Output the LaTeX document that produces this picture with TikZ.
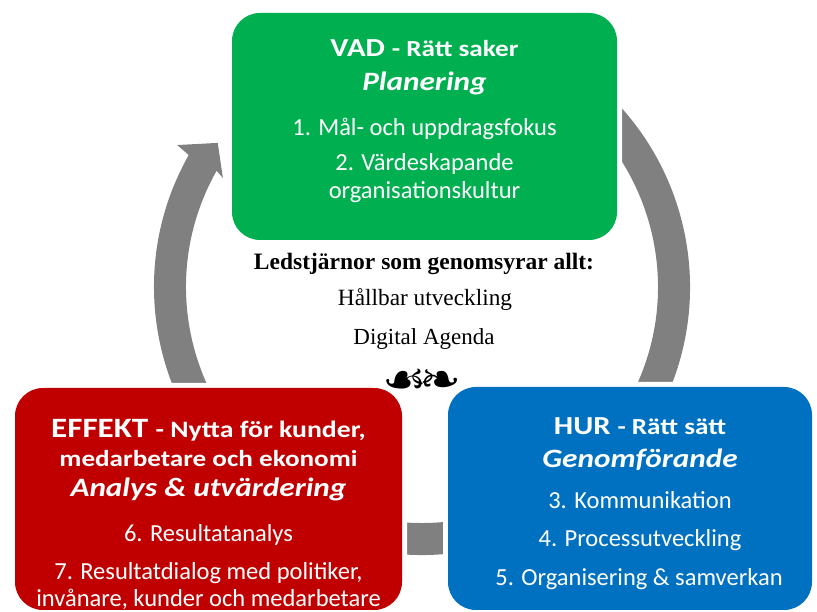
\documentclass[tikz,border=0pt]{standalone}
\usepackage{graphicx}
\usepackage{fontspec}
\setmainfont{Carlito}
\newfontfamily\serifbody{Liberation Serif}
\newfontfamily\ornfont{DejaVu Sans}
\definecolor{vgreen}{HTML}{00B050}
\definecolor{vred}{HTML}{C00000}
\definecolor{vblue}{HTML}{0070C0}
\definecolor{ringgray}{HTML}{808080}
\newcommand\fsz[1]{\fontsize{#1}{#1}\selectfont}
\newcommand\wide[1]{\scalebox{1.18}[1]{#1}}
\begin{document}
\begin{tikzpicture}[x=1pt,y=1pt,
  box/.style={rounded corners=28pt, minimum width=#1, inner sep=0pt, outer sep=0pt,
    preaction={draw=white, line width=10pt}},
  boxtxt/.style={text=white, anchor=mid, inner sep=0pt},
  midtxt/.style={text=black, anchor=mid, inner sep=0pt, font=\serifbody}]
\useasboundingbox (0,0) rectangle (817,612);
\fill[white] (0,0) rectangle (817,612);
% circular arrow
\begin{scope}[shift={(422,325)}]
\fill[ringgray] (60:268) arc[start angle=60,end angle=-209.5,radius=268]
  -- (149.9:283) -- (144.8:250) -- (151.3:227) -- (-209.5:236)
  arc[start angle=-209.5,end angle=60,radius=236] -- cycle;
\end{scope}
% boxes
\node[box=385pt, fill=vgreen, minimum height=227pt] (vad) at (424.5,485.5) {};
\node[box=387pt, fill=vred, minimum height=222pt] (effekt) at (208.5,113) {};
\node[box=364pt, fill=vblue, minimum height=223pt] (hur) at (630,113.5) {};
% green texts
\node[boxtxt] (vad1) at (424.5,557.5) {\wide{\bfseries\fsz{26}VAD \fsz{23}- Rätt saker}};
\node[boxtxt] (vad2) at (424.5,523.5) {\wide{\bfseries\itshape\fsz{26.5}Planering}};
\node[boxtxt] (vad3) at (424.5,478.5) {\fsz{24.5}1. Mål- och uppdragsfokus};
\node[boxtxt] (vad4) at (424.5,443.5) {\fsz{24.5}2. Värdeskapande};
\node[boxtxt] (vad5) at (424.5,415.5) {\fsz{24.5}organisationskultur};
% middle texts
\node[midtxt] (led1) at (424,344.5) {\bfseries\fsz{23.5}Ledstjärnor som genomsyrar allt:};
\node[midtxt] (led2) at (425,308.5) {\fsz{23.3}Hållbar utveckling};
\node[midtxt] (led3) at (424,269.5) {\fsz{23}Digital Agenda};
\node[text=black, inner sep=0pt] (orn) at (422,230) {\scalebox{1.25}[1.15]{\ornfont\fsz{40}☙\kern-6pt❧}};
% red texts
\node[boxtxt] (eff1) at (208.5,177) {\wide{\bfseries\fsz{28}EFFEKT \fsz{23.5}- Nytta för kunder,}};
\node[boxtxt] (eff2) at (208.5,148) {\wide{\bfseries\fsz{23}medarbetare och ekonomi}};
\node[boxtxt] (eff3) at (208.5,118) {\wide{\bfseries\itshape\fsz{26.5}Analys \& utvärdering}};
\node[boxtxt] (eff4) at (208.5,73) {\fsz{24.5}6. Resultatanalys};
\node[boxtxt] (eff5) at (208.5,35) {\fsz{24.5}7. Resultatdialog med politiker,};
\node[boxtxt] (eff6) at (208.5,8) {\fsz{24.5}invånare, kunder och medarbetare};
% blue texts
\node[boxtxt] (hur1) at (640,180) {\wide{\bfseries\fsz{26}HUR \fsz{23}- Rätt sätt}};
\node[boxtxt] (hur2) at (640,147) {\wide{\bfseries\itshape\fsz{26.5}Genomförande}};
\node[boxtxt] (hur3) at (640,105.5) {\fsz{24.5}3. Kommunikation};
\node[boxtxt] (hur4) at (640,67.5) {\fsz{24.5}4. Processutveckling};
\node[boxtxt] (hur5) at (639,28.5) {\fsz{24.5}5. Organisering \& samverkan};
\end{tikzpicture}
\end{document}
